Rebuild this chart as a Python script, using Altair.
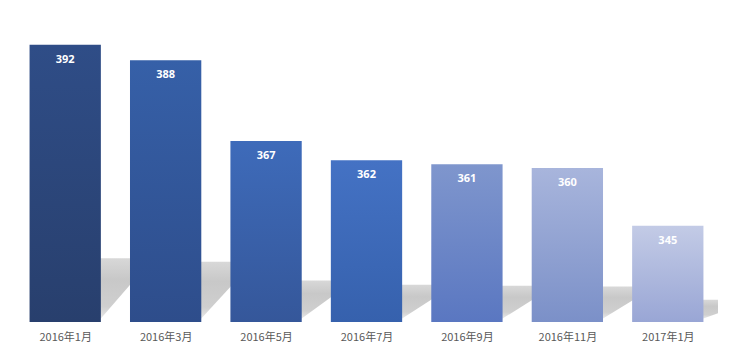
import json
import altair as alt
import pandas as pd

months = ["2016年1月", "2016年3月", "2016年5月", "2016年7月", "2016年9月", "2016年11月", "2017年1月"]
values = [392, 388, 367, 362, 361, 360, 345]

top_colors = ["#2f4d87", "#3660a8", "#3e6bba", "#4472c4", "#7f96cd", "#a8b5dc", "#c3cbe6"]
bottom_colors = ["#283f6d", "#2e4d8b", "#35579a", "#3661ad", "#5a77c1", "#7b90c8", "#99a6d5"]

# shadow corner offsets (in category steps) for the perspective drop shadow
shadow_corners = [0, 1, 2, 3]
shadow_offsets = [0.0, 0.52, 0.71, 1.23]

df = pd.DataFrame({"month": months, "value": values, "c": list(range(len(months)))})
corners = pd.DataFrame({"k": shadow_corners, "off": shadow_offsets})
sdf = df.merge(corners, how="cross")

Y_MIN, Y_MAX = 320, 400
HALF = 0.355  # half bar width, in category steps

yscale = alt.Scale(domain=[Y_MIN, Y_MAX], zero=False, nice=False)
xscale = alt.Scale(domain=[-0.5, len(months) - 0.5], nice=False, zero=False)

xaxis = alt.Axis(
    title=None, values=list(range(len(months))), labelExpr=json.dumps(months, ensure_ascii=False) + "[datum.value]",
    labelAngle=0, domain=False, ticks=False, grid=False, labelFontSize=11, labelColor="#595959",
    labelFont="Noto Sans CJK SC", labelPadding=9, labelFlush=False, labelOverlap=False,
)

shadow_fill = {
    "gradient": "linear", "x1": 0, "y1": 0, "x2": 0, "y2": 1,
    "stops": [
        {"offset": 0, "color": "#d8d8d8"},
        {"offset": 0.35, "color": "#c8c8c8"},
        {"offset": 0.8, "color": "#cfcfcf"},
        {"offset": 1, "color": "#e8e8e8"},
    ],
}

shadows = []
for m in months:
    shadows.append(
        alt.Chart(sdf)
        .transform_filter(alt.datum.month == m)
        .transform_calculate(
            h="320 + 0.23 * (datum.value - 320)",
            sx="datum.c - 0.355 + datum.off",
        )
        .transform_calculate(
            ytop="datum.k == 0 ? 320.9 : datum.h",
            ybot="datum.k == 3 ? datum.h : 320.9",
        )
        .mark_area(fill=shadow_fill, opacity=1, clip=True)
        .encode(
            x=alt.X("sx:Q", scale=xscale, axis=xaxis),
            y=alt.Y("ytop:Q", scale=yscale, axis=None, stack=None),
            y2="ybot:Q",
        )
    )

base = alt.Chart(df)

bars = []
for m, tc, bc in zip(months, top_colors, bottom_colors):
    bars.append(
        base.transform_filter(alt.datum.month == m)
        .transform_calculate(x0=f"datum.c - {HALF}", x1=f"datum.c + {HALF}")
        .mark_bar(
            fill={
                "gradient": "linear", "x1": 0, "y1": 0, "x2": 0, "y2": 1,
                "stops": [{"offset": 0, "color": tc}, {"offset": 1, "color": bc}],
            }
        )
        .encode(
            x=alt.X("x0:Q", scale=xscale, axis=xaxis),
            x2="x1:Q",
            y=alt.Y("value:Q", scale=yscale, axis=None),
            y2=alt.datum(Y_MIN),
        )
    )

labels = base.mark_text(
    color="white", fontWeight="bold", fontSize=11, dy=15, baseline="middle", font="Noto Sans"
).encode(
    x=alt.X("c:Q", scale=xscale, axis=xaxis),
    y=alt.Y("value:Q", scale=yscale, axis=None),
    text="value:Q",
)

chart = (
    alt.layer(*shadows, *bars, labels)
    .properties(width=703, height=308, padding={"left": 7, "top": 6, "right": 0, "bottom": 0}, background="white")
    .configure_view(stroke=None)
)

chart.save("out.html", embed_options={"renderer": "svg", "actions": False})
